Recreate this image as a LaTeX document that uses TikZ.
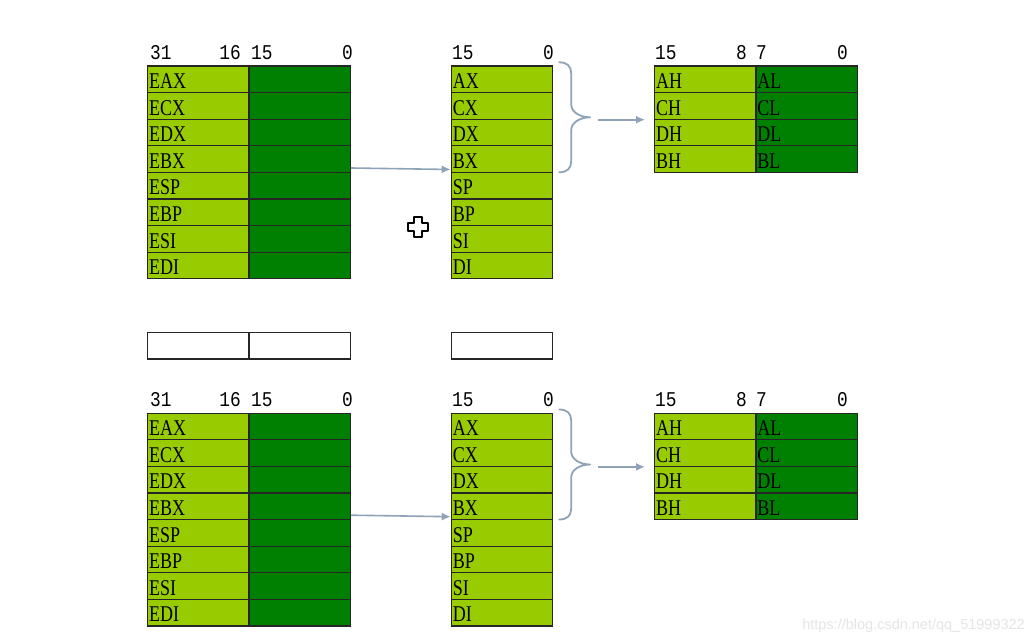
\documentclass[tikz,border=0pt]{standalone}
\usepackage{fontspec}
\newfontfamily\regfont{Liberation Serif}[FakeStretch=0.8]
\newfontfamily\numfont{Liberation Mono}[FakeStretch=0.85]
\newfontfamily\wmfont{Liberation Sans}
\usetikzlibrary{arrows.meta}
\definecolor{lg}{HTML}{99CC00}
\definecolor{dg}{HTML}{008000}
\definecolor{ac}{HTML}{8FA3B8}
\tikzset{
  cellbox/.style={draw=black!85, line width=1.2pt, minimum width=101.3pt, minimum height=26.6pt,
    inner xsep=1.5pt, inner ysep=0pt, text width=98.3pt, align=left, anchor=north west,
    font=\regfont\fontsize{22.5}{22.5}\selectfont, text height=18.5pt, text depth=0pt},
  lcell/.style={cellbox, fill=lg},
  dcell/.style={cellbox, fill=dg},
  wcell/.style={cellbox, fill=white},
  hdr/.style={font=\numfont\fontsize{21}{21}\selectfont, inner sep=0pt},
  arr/.style={draw=ac, line width=1.6pt, -{Latex[length=9pt,width=8pt]}},
  bracestyle/.style={draw=ac, line width=1.8pt, line cap=round, line join=round},
}
\newcommand\regset[2]{%
  \node[hdr, anchor=base west] (#2h31) at (150,#1-6) {31};
  \node[hdr, anchor=base east] (#2h16) at (241,#1-6) {16};
  \node[hdr, anchor=base west] (#2h15) at (251,#1-6) {15};
  \node[hdr, anchor=base east] (#2h0) at (353,#1-6) {0};
  \node[hdr, anchor=base west] (#2mh15) at (452,#1-6) {15};
  \node[hdr, anchor=base east] (#2mh0) at (554,#1-6) {0};
  \node[hdr, anchor=base west] (#2rh15) at (655,#1-6) {15};
  \node[hdr, anchor=base east] (#2rh8) at (747,#1-6) {8};
  \node[hdr, anchor=base west] (#2rh7) at (756,#1-6) {7};
  \node[hdr, anchor=base east] (#2rh0) at (848,#1-6) {0};
  \foreach \a/\b [count=\i] in {EAX/AX,ECX/CX,EDX/DX,EBX/BX,ESP/SP,EBP/BP,ESI/SI,EDI/DI}{
    \node[lcell] (#2lh\i) at (147,{#1+(\i-1)*26.6}) {\a};
    \node[dcell] (#2ll\i) at (248.3,{#1+(\i-1)*26.6}) {};
    \node[lcell] (#2m\i) at (450.7,{#1+(\i-1)*26.6}) {\b};
  }
  \foreach \h/\l [count=\i] in {AH/AL,CH/CL,DH/DL,BH/BL}{
    \node[lcell] (#2rh\i) at (654,{#1+(\i-1)*26.6}) {\h};
    \node[dcell] (#2rl\i) at (755.3,{#1+(\i-1)*26.6}) {\l};
  }
  \draw[arr] ([yshift=-9pt]#2ll4.east) -- ([yshift=-10.5pt]#2m4.west);
  \coordinate (#2bt) at ([xshift=6pt,yshift=3pt]#2m1.north east);
  \draw[bracestyle] (#2bt) .. controls +(8,0) and +(0,-7) .. ++(12,11) -- ++(0,31)
     .. controls +(0,8) and +(-10,0) .. ++(19,13) .. controls +(-10,0) and +(0,-8) .. ++(-19,13)
     -- ++(0,31) .. controls +(0,7) and +(8,0) .. ++(-12,11);
  \draw[arr] ([xshift=45pt]#2m2.south east) -- ([xshift=-9pt]#2rh2.south west);
}
\begin{document}
\begin{tikzpicture}[x=1pt,y=-1pt]
\useasboundingbox[fill=white] (0,0) rectangle (1035,642);
\regset{65.3}{t}
\regset{412.5}{b}
% empty boxes
\node[wcell] (w1) at (147,331.7) {};
\node[wcell] (w2) at (248.3,331.7) {};
\node[wcell] (w3) at (450.7,331.7) {};
% cursor
\draw[black, line width=1.3pt, fill=white, line join=round]
  (414,217) -- (422,217) -- (422,223) -- (428,223) -- (428,231) -- (422,231) -- (422,237)
  -- (414,237) -- (414,231) -- (408,231) -- (408,223) -- (414,223) -- cycle;
% watermark
\node[font=\wmfont\fontsize{14.5}{14.5}\selectfont, text=black!10, anchor=base east, inner sep=0pt]
  (wm) at (1025,629) {https://blog.csdn.net/qq\_51999322};
\end{tikzpicture}
\end{document}
